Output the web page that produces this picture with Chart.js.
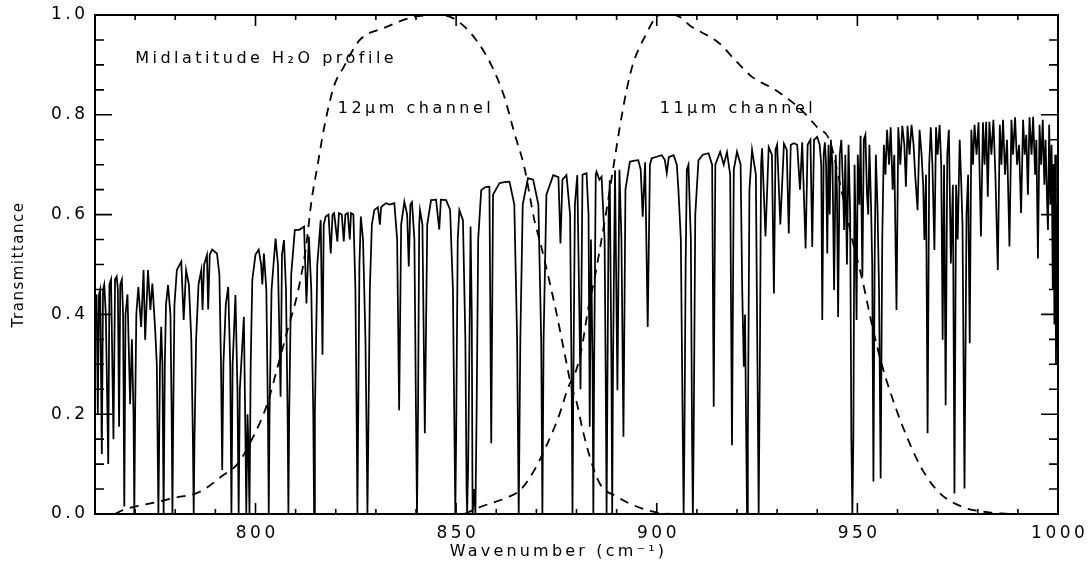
<!DOCTYPE html>
<html>
<head>
<meta charset="utf-8">
<script src="https://cdn.jsdelivr.net/npm/chart.js@4.4.0/dist/chart.umd.min.js"></script>
<style>
  html, body { margin: 0; padding: 0; background: #fff; }
</style>
</head>
<body>
<canvas id="spectrumChart" width="1090" height="566"></canvas>
<script>
// axis setup
const xRange = [760, 1000];
const yRange = [0, 1];
const xTickLabels = [800, 850, 900, 950, 1000];
const yTickLabels = [0, 0.2, 0.4, 0.6, 0.8, 1.0];

// transmittance spectrum, [wavenumber, transmittance]
const spectrum760 = [
  [760.0,0.40],[760.4,0.44],[760.7,0.20],[761.0,0.44],[761.3,0.45],[761.7,0.12],[762.0,0.45],[762.3,0.46],
  [762.7,0.40],[763.3,0.10],[763.6,0.46],[764.0,0.47],[764.6,0.15],[765.0,0.47],[765.4,0.476],[765.7,0.45],
  [766.0,0.175],[766.3,0.46],[766.7,0.47],[767.0,0.40],[767.3,0.015],[767.6,0.40],[768.1,0.44],[768.75,0.22],
  [769.2,0.35],[769.6,0.20],[769.8,0.0],[770.0,0.20],[770.3,0.40],[770.8,0.455],[771.5,0.375],[772.1,0.489],
  [772.5,0.349],[773.2,0.489],[773.8,0.409],[774.3,0.462],[775.0,0.369],[775.4,0.30],[775.8,0.0],[776.2,0.30],
  [776.5,0.375],[776.8,0.30],[777.1,0.0],[777.4,0.30],[777.7,0.42],[778.2,0.459],[778.8,0.40],[779.1,0.20],
  [779.3,0.0],[779.5,0.20],[779.8,0.42],[780.4,0.489],[781.5,0.506],[782.1,0.389],[782.7,0.489],[783.4,0.46],
  [784.0,0.35],[784.4,0.15],[784.6,0.0],[784.8,0.15],[785.2,0.35],[785.8,0.46],[786.5,0.489],[786.8,0.409],
  [787.2,0.50],[787.9,0.519],[788.2,0.41],[788.6,0.52],[789.2,0.53],[790.4,0.522],[791.0,0.48],[791.4,0.30],
  [791.7,0.088],[792.0,0.30],[792.6,0.42],[793.2,0.455],[793.7,0.30],[794.0,0.0],[794.3,0.30],[795.0,0.439],
  [795.5,0.25],[795.8,0.0],[796.1,0.25],[797.1,0.395],[797.5,0.15],[797.7,0.0],[798.0,0.20],[798.2,0.15],
  [798.5,0.0],[798.8,0.30],[799.2,0.469],[800.0,0.52],[800.8,0.53],[801.4,0.50],[801.7,0.46],[802.1,0.522],
  [802.7,0.45],[803.1,0.20],[803.3,0.0],[803.5,0.20],[804.0,0.45],[805.0,0.552],[805.6,0.50],[806.25,0.235],
  [806.6,0.52],[807.1,0.549],[807.6,0.45],[808.0,0.20],[808.2,0.0],[808.4,0.20],[808.9,0.48],[809.8,0.569],
  [811.0,0.57],[812.1,0.576],[812.7,0.422],[813.3,0.556],[813.9,0.45],[814.4,0.20],[814.6,0.0],[814.8,0.20],
  [815.4,0.50],[816.25,0.589],[816.7,0.319],[817.0,0.58],[817.5,0.596],[818.2,0.60],[818.75,0.522],[819.2,0.60],
  [819.6,0.603],[820.4,0.546]
];
const spectrum820 = [
  [820.8,0.603],[821.5,0.60],[822.0,0.546],[822.4,0.60],[823.0,0.603],[823.5,0.55],[823.8,0.603],[824.4,0.60],
  [824.9,0.45],[825.2,0.20],[825.4,0.0],[825.6,0.20],[825.9,0.50],[826.25,0.596],[826.8,0.55],[827.4,0.35],
  [827.7,0.15],[827.9,0.0],[828.1,0.15],[828.5,0.45],[829.0,0.58],[829.6,0.609],[830.5,0.615],[831.0,0.58],
  [831.3,0.615],[832.5,0.623],[833.5,0.62],[834.6,0.623],[835.3,0.55],[835.8,0.208],[836.3,0.58],[837.1,0.626],
  [837.8,0.60],[838.2,0.496],[838.6,0.62],[839.0,0.625],[839.6,0.55],[840.0,0.20],[840.25,0.0],[840.5,0.20],
  [840.8,0.58],[841.0,0.609],[841.6,0.58],[842.2,0.162],[842.8,0.58],[843.75,0.629],[845.0,0.63],[845.8,0.57],
  [846.2,0.63],[847.5,0.629],[848.5,0.61],[849.2,0.45],[849.6,0.15],[849.8,0.0],[850.0,0.15],[850.4,0.55],
  [850.8,0.609],[851.7,0.589],[852.3,0.35],[852.6,0.05],[852.75,0.0],[853.0,0.10],[853.4,0.40],[853.6,0.576],
  [853.9,0.40],[854.1,0.0],[854.5,0.05],[854.8,0.0],[855.1,0.20],[855.5,0.55],[856.25,0.649],[857.3,0.655],
  [858.3,0.656],[858.75,0.142],[859.2,0.64],[860.8,0.663],[862.0,0.665],[863.3,0.666],[864.5,0.62],[865.2,0.35],
  [865.6,0.0],[866.0,0.35],[866.6,0.62],[867.9,0.673],[869.2,0.67],[870.5,0.62],[871.2,0.35],[871.5,0.0],
  [871.8,0.35],[872.5,0.64],[874.2,0.679],[875.5,0.675],[876.0,0.542],[876.5,0.67],[877.5,0.679],[878.4,0.60],
  [878.8,0.25],[879.0,0.0],[879.2,0.25],[879.6,0.62],[880.2,0.679]
];
const spectrum880 = [
  [881.0,0.25],[881.5,0.68],[882.5,0.683],[883.0,0.60],[883.3,0.175],[883.6,0.55],[884.0,0.30],[884.2,0.0],
  [884.4,0.30],[884.8,0.68],[885.0,0.686],[885.7,0.67],[886.25,0.676],[887.0,0.55],[887.3,0.25],[887.5,0.0],
  [887.7,0.25],[888.0,0.60],[888.3,0.669],[888.7,0.30],[888.9,0.0],[889.1,0.30],[889.6,0.689],[890.2,0.248],
  [890.7,0.69],[891.2,0.55],[891.7,0.155],[892.2,0.65],[893.3,0.706],[894.5,0.708],[895.4,0.709],[896.0,0.69],
  [896.5,0.596],[897.1,0.705],[897.75,0.375],[898.3,0.70],[898.75,0.713],[900.0,0.716],[901.25,0.719],[902.0,0.71],
  [902.5,0.683],[903.0,0.715],[904.2,0.719],[905.0,0.70],[905.4,0.65],[906.0,0.55],[906.5,0.15],[906.7,0.0],
  [906.9,0.15],[907.2,0.50],[907.5,0.69],[907.9,0.70],[908.5,0.55],[908.8,0.15],[909.0,0.0],[909.2,0.15],
  [909.6,0.60],[910.4,0.709],[911.5,0.72],[912.9,0.723],[913.8,0.70],[914.2,0.215],[914.6,0.70],[915.8,0.726],
  [916.7,0.70],[917.5,0.725],[918.3,0.68],[918.75,0.138],[919.2,0.69],[920.0,0.726],[920.9,0.70],[921.3,0.45],
  [921.7,0.295],[922.0,0.40],[922.3,0.15],[922.5,0.0],[922.7,0.15],[923.1,0.65],[923.75,0.73],[924.7,0.68],
  [925.1,0.30],[925.4,0.0],[925.7,0.30],[926.0,0.70],[926.25,0.733],[927.1,0.556],[927.9,0.735],[928.7,0.72],
  [929.2,0.442],[929.6,0.73],[930.0,0.74],[930.8,0.58],[931.7,0.742],[932.4,0.73],[932.9,0.562],[933.4,0.74],
  [934.2,0.743],[935.0,0.74],[935.7,0.65],[936.25,0.745],[937.1,0.532],[937.6,0.74],[938.3,0.75],[938.75,0.535],
  [939.2,0.75],[940.0,0.756],[940.6,0.74]
];
const spectrum940 = [
  [941.0,0.70],[941.25,0.389],[941.6,0.72],[941.9,0.745],[942.2,0.70],[942.5,0.522],[942.8,0.74],[943.1,0.60],
  [943.4,0.75],[943.8,0.70],[944.2,0.449],[944.6,0.72],[944.9,0.65],[945.2,0.395],[945.6,0.72],[946.0,0.75],
  [946.4,0.66],[946.7,0.569],[947.0,0.72],[947.4,0.50],[947.8,0.74],[948.2,0.60],[948.5,0.15],[948.75,0.0],
  [949.0,0.15],[949.3,0.70],[949.5,0.60],[949.8,0.389],[950.1,0.72],[950.5,0.62],[950.8,0.758],[951.25,0.476],
  [951.6,0.75],[952.0,0.76],[952.4,0.64],[952.7,0.60],[953.0,0.74],[953.4,0.62],[953.7,0.50],[954.0,0.065],
  [954.3,0.50],[954.6,0.72],[955.0,0.62],[955.4,0.45],[955.8,0.071],[956.2,0.55],[956.6,0.74],[957.0,0.68],
  [957.4,0.77],[957.9,0.70],[958.3,0.775],[958.8,0.65],[959.2,0.72],[959.75,0.409],[960.2,0.775],[960.7,0.70],
  [961.2,0.778],[961.7,0.74],[962.1,0.656],[962.5,0.778],[963.0,0.72],[963.5,0.78],[964.0,0.74],[964.4,0.68],
  [965.0,0.609],[965.5,0.77],[966.0,0.72],[966.4,0.66],[966.7,0.549],[967.1,0.68],[967.5,0.162],[967.9,0.70],
  [968.3,0.775],[968.7,0.70],[969.2,0.529],[969.6,0.775],[970.0,0.72],[970.5,0.78],[970.9,0.70],[971.25,0.349],
  [971.6,0.70],[972.0,0.218],[972.4,0.72],[972.8,0.77],[973.3,0.502],[973.8,0.66],[974.2,0.041],[974.6,0.66],
  [975.0,0.55],[975.5,0.75],[975.9,0.66],[976.2,0.58],[976.7,0.051],[977.2,0.60],[977.6,0.68],[978.0,0.342],
  [978.4,0.77],[978.8,0.70],[979.2,0.78],[979.7,0.72],[980.2,0.785],[980.8,0.556],[981.3,0.785],[981.7,0.70],
  [982.1,0.786],[982.5,0.636],[982.9,0.786],[983.4,0.72],[983.9,0.79],[984.4,0.68],[985.0,0.489],[985.5,0.78],
  [985.9,0.70],[986.3,0.79],[986.8,0.68],[987.3,0.75],[987.9,0.536],[988.4,0.79],[988.8,0.72],[989.3,0.795],
  [989.8,0.70],[990.3,0.74],[990.8,0.603],[991.3,0.79],[991.7,0.72],[992.1,0.76],[992.5,0.64],[992.9,0.795],
  [993.4,0.72],[993.8,0.796],[994.3,0.68],[994.6,0.75],[995.0,0.512],[995.4,0.78],[995.8,0.70],[996.2,0.79],
  [996.6,0.66],[996.9,0.75],[997.3,0.62],[997.5,0.569],[997.8,0.78],[998.1,0.62],[998.4,0.74],[998.7,0.45],
  [998.9,0.70],[999.1,0.38],[999.3,0.72],[999.5,0.30],[999.7,0.62],[999.85,0.33],[1000.0,0.50]
];

// channel response functions (dashed)
const channel12 = [
  [765,0.0],[767,0.008],[775.5,0.024],[779.5,0.032],[786,0.044],[792,0.078],[795.5,0.10],[799,0.148],
  [803,0.222],[805.5,0.295],[808,0.369],[810.5,0.443],[812.5,0.53],[814,0.63],[815.5,0.70],[817,0.77],
  [819.5,0.856],[822,0.896],[826,0.95],[832,0.974],[839.5,0.996],[846,1.0],[850,0.99],[855,0.95],
  [859,0.896],[862,0.836],[864.5,0.764],[867,0.695],[869.5,0.589],[871,0.543],[873,0.475],[875,0.403],
  [877,0.323],[878.75,0.255],[880,0.225],[881.5,0.17],[883.3,0.115],[885.8,0.061],[890,0.035],[895,0.015],
  [900.8,0.002],[905,0.0]
];
const channel11 = [
  [852,0.0],[856,0.014],[863,0.034],[866,0.048],[869.5,0.088],[872,0.128],[875.5,0.194],[878,0.255],
  [880,0.29],[881.25,0.33],[882.9,0.41],[884.6,0.476],[885.8,0.53],[887.5,0.61],[889.6,0.716],[890.8,0.776],
  [892.5,0.85],[894,0.90],[897,0.956],[900.75,1.0],[904.5,1.0],[908.75,0.976],[915.5,0.944],[919.5,0.91],
  [923.75,0.876],[929.5,0.85],[936,0.81],[940,0.775],[943,0.75],[946,0.65],[948.75,0.549],[951.25,0.469],
  [953.75,0.375],[956.25,0.295],[959.5,0.214],[963,0.142],[966.25,0.088],[970.5,0.042],[976.25,0.014],[982,0.004],
  [988,0.0]
];

// text labels inside the plot, placed in data coordinates
const notes = [
  { text: "Midlatitude H₂O profile", x: 770, y: 0.912 },
  { text: "12μm channel", x: 820.5, y: 0.812 },
  { text: "11μm channel", x: 900.75, y: 0.812 },
];

const FONT = "DejaVu Sans";
const toXY = (arr) => arr.map(([x, y]) => ({ x, y }));
const spectrum = [...spectrum760, ...spectrum820, ...spectrum880, ...spectrum940];

// IDL-style frame: box on all sides, ticks pointing inward, wide-spaced lettering
const idlFrame = {
  id: "idlFrame",
  afterDraw(chart) {
    const ctx = chart.ctx;
    const a = chart.chartArea;
    const xs = chart.scales.x, ys = chart.scales.y;
    ctx.save();
    ctx.setLineDash([]);
    ctx.strokeStyle = "#000";

    const ticks = new Path2D();
    for (let v = xRange[0]; v <= xRange[1]; v += 10) {
      const p = xs.getPixelForValue(v);
      const len = v % 50 === 0 ? 11 : 5;
      ticks.moveTo(p, a.bottom); ticks.lineTo(p, a.bottom - len);
      ticks.moveTo(p, a.top); ticks.lineTo(p, a.top + len);
    }
    for (let i = 0; i <= 20; i++) {
      const p = ys.getPixelForValue(i * 0.05);
      const len = i % 4 === 0 ? 17 : 9;
      ticks.moveTo(a.left, p); ticks.lineTo(a.left + len, p);
      ticks.moveTo(a.right, p); ticks.lineTo(a.right - len, p);
    }
    ctx.lineWidth = 1.6;
    ctx.stroke(ticks);

    const box = new Path2D();
    box.rect(a.left, a.top, a.right - a.left, a.bottom - a.top);
    ctx.lineWidth = 2;
    ctx.stroke(box);

    // text last
    ctx.fillStyle = "#000";
    ctx.textBaseline = "middle";

    ctx.font = `17px "${FONT}"`;
    ctx.letterSpacing = "3.5px";
    ctx.textAlign = "center";
    xTickLabels.forEach(v => ctx.fillText(String(v), xs.getPixelForValue(v) + 1.75, a.bottom + 20));
    ctx.textAlign = "right";
    yTickLabels.forEach(v => ctx.fillText(v.toFixed(1), a.left - 10 + 3.5, ys.getPixelForValue(v)));

    ctx.font = `16px "${FONT}"`;
    ctx.letterSpacing = "3.5px";
    ctx.textAlign = "left";
    notes.forEach(n => ctx.fillText(n.text, xs.getPixelForValue(n.x), ys.getPixelForValue(n.y)));

    ctx.letterSpacing = "3.2px";
    ctx.textAlign = "center";
    ctx.fillText("Wavenumber (cm⁻¹)", (a.left + a.right) / 2 - 18, a.bottom + 38);

    ctx.font = `15px "${FONT}"`;
    ctx.letterSpacing = "1.5px";
    ctx.translate(19, (a.top + a.bottom) / 2);
    ctx.rotate(-Math.PI / 2);
    ctx.fillText("Transmittance", 0, 0);
    ctx.letterSpacing = "0px";
    ctx.restore();
  }
};

new Chart(document.getElementById("spectrumChart"), {
  type: "line",
  data: {
    datasets: [
      {
        label: "Transmittance",
        data: toXY(spectrum),
        borderColor: "#000",
        borderWidth: 1.75,
        pointRadius: 0,
        tension: 0,
      },
      {
        label: "12μm channel",
        data: toXY(channel12),
        borderColor: "#000",
        borderWidth: 1.8,
        borderDash: [9, 7],
        pointRadius: 0,
        cubicInterpolationMode: "monotone",
      },
      {
        label: "11μm channel",
        data: toXY(channel11),
        borderColor: "#000",
        borderWidth: 1.8,
        borderDash: [9, 7],
        pointRadius: 0,
        cubicInterpolationMode: "monotone",
      },
    ],
  },
  options: {
    responsive: false,
    animation: false,
    layout: { padding: { top: 15, right: 32, left: 0, bottom: 0 } },
    plugins: { legend: { display: false }, tooltip: { enabled: false } },
    scales: {
      x: {
        type: "linear",
        min: xRange[0],
        max: xRange[1],
        grid: { display: false, drawTicks: false },
        border: { display: false },
        ticks: { display: false },
        afterFit: (s) => { s.height = 52; },
      },
      y: {
        min: yRange[0],
        max: yRange[1],
        grid: { display: false, drawTicks: false },
        border: { display: false },
        ticks: { display: false },
        afterFit: (s) => { s.width = 95; },
      },
    },
  },
  plugins: [idlFrame],
});
</script>
</body>
</html>
